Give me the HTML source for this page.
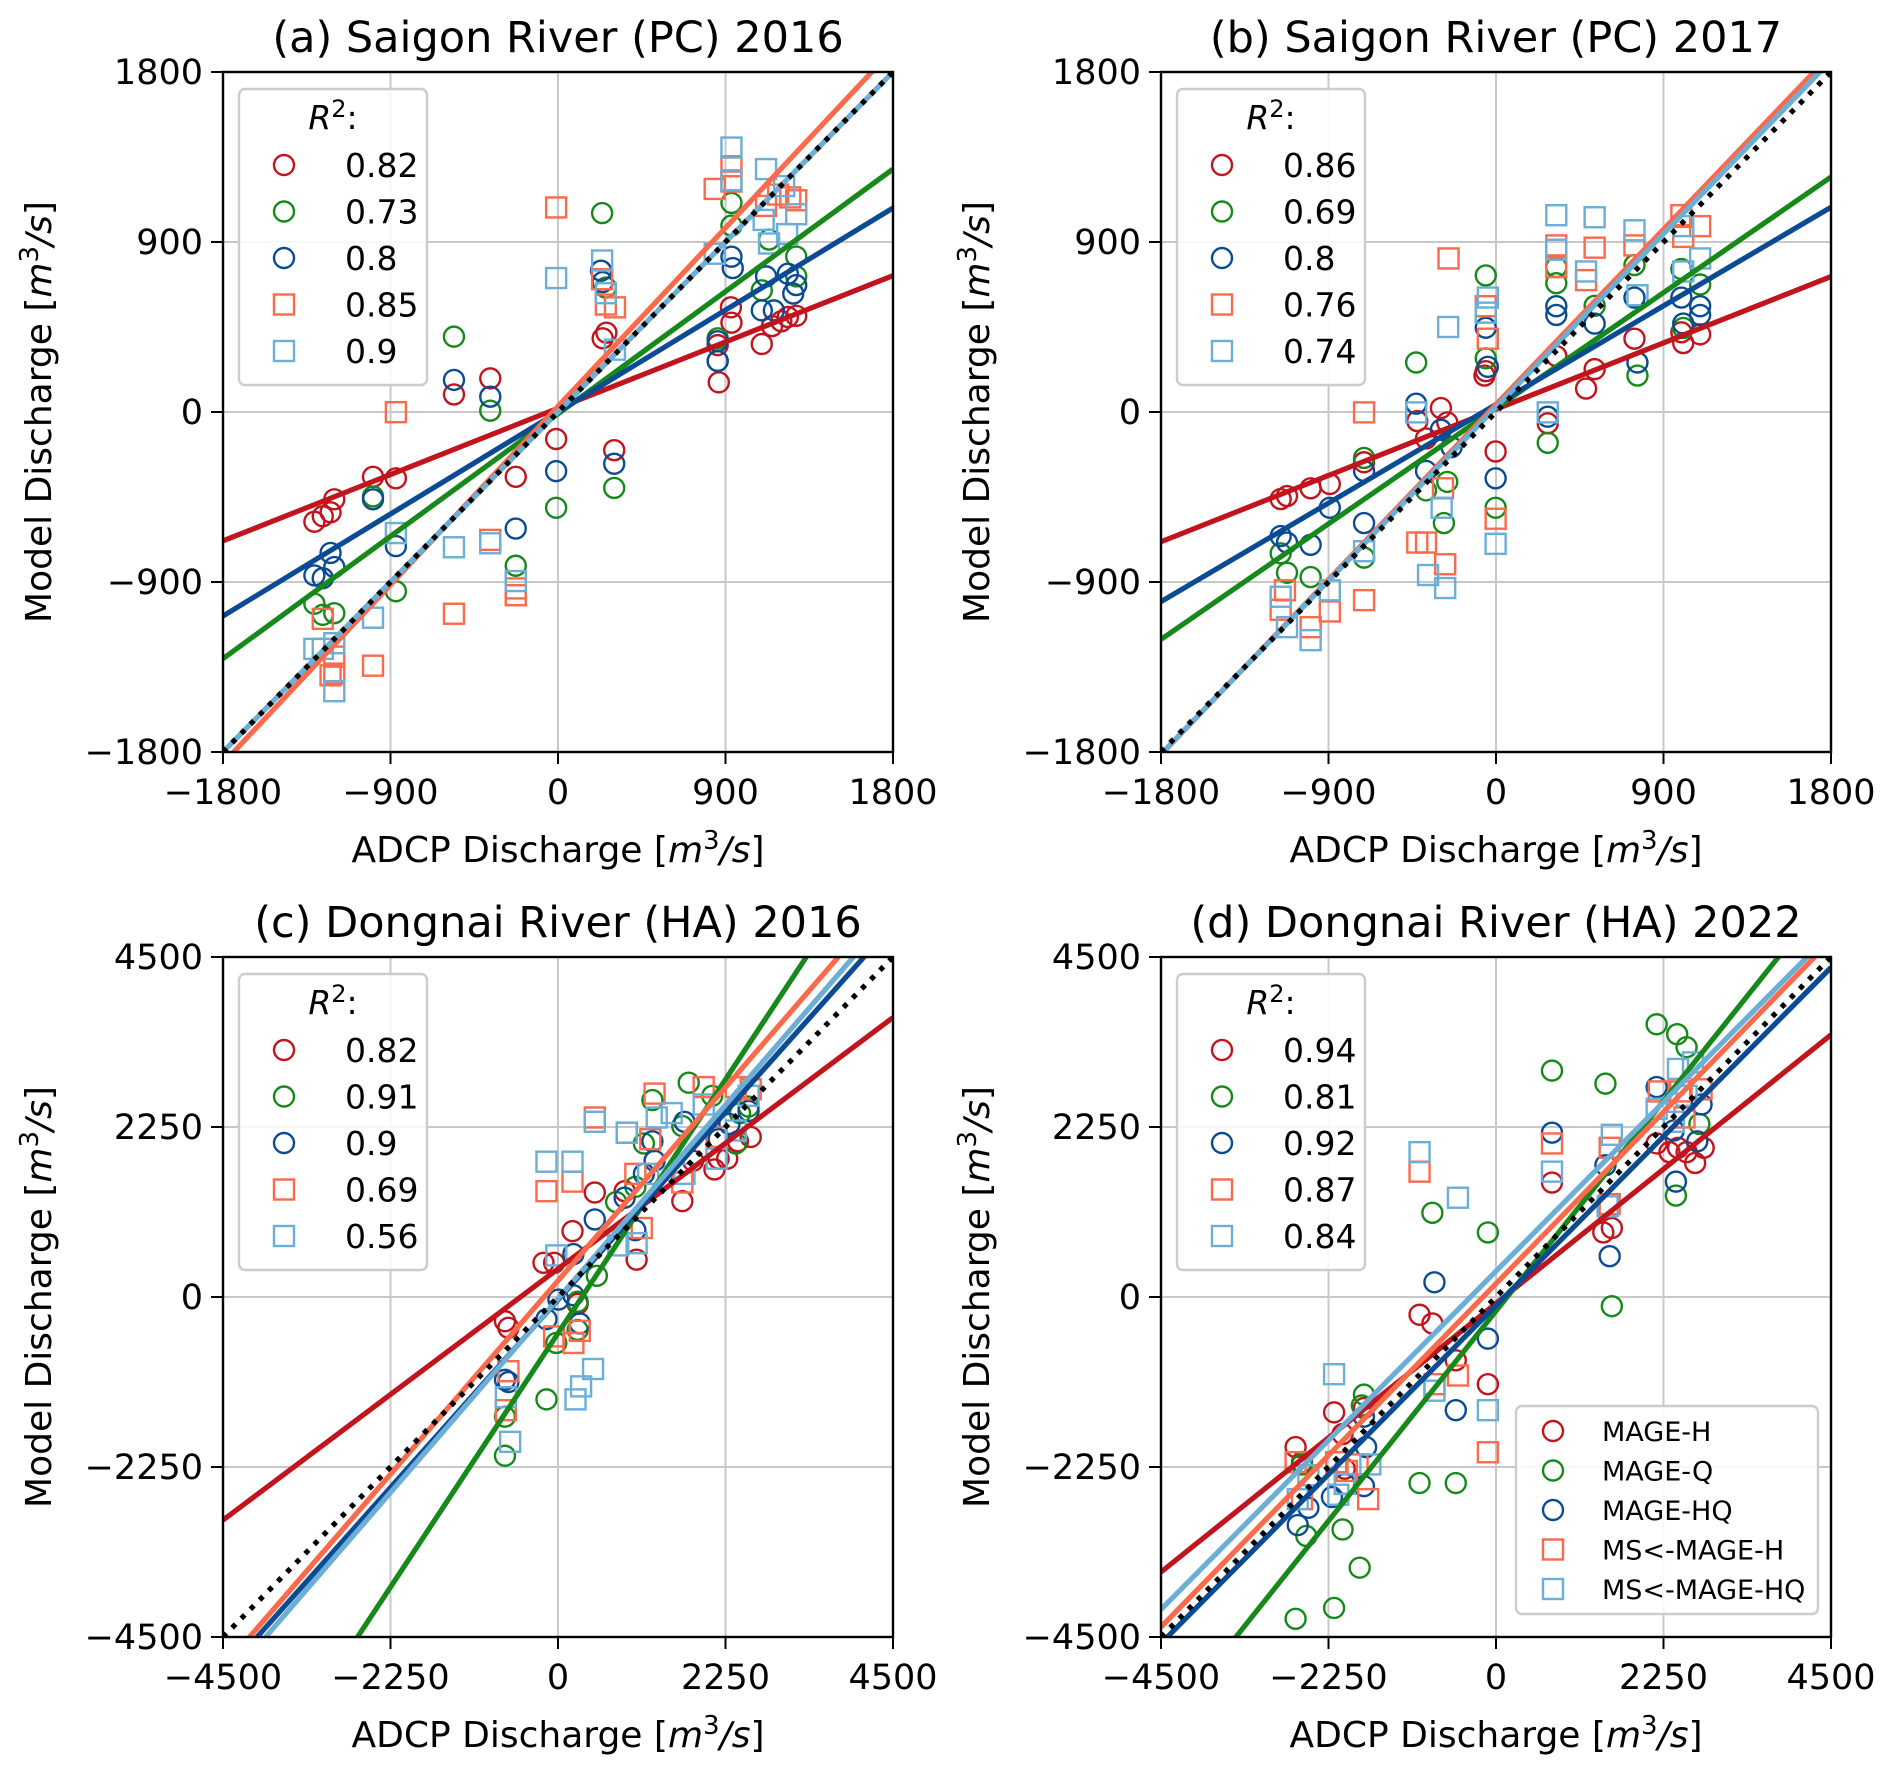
<!DOCTYPE html>
<html><head><meta charset="utf-8"><style>
html,body{margin:0;padding:0;background:#fff;}
svg{display:block;font-family:"DejaVu Sans","Liberation Sans",sans-serif;}
</style></head><body>
<svg id="fig" width="1892" height="1772" viewBox="0 0 1892 1772" xmlns="http://www.w3.org/2000/svg"></svg>
<script>
// ---------- Panel (a) data ----------
const a_red=[[-1309,-581],[-1264,-552],[-1222,-531],[-1202,-462],[-994,-343],[-871,-351],[-559,93],[-364,178],[-227,-343],[-10,-143],[302,-202],[240,390],[260,420],[864,157],[858,354],[932,473],[929,554],[1095,360],[1150,455],[1235,503],[1280,509],[1200,480]];
const a_green=[[-1309,-1015],[-1264,-1074],[-1202,-1065],[-994,-447],[-871,-949],[-559,399],[-364,7],[-227,-814],[-10,-507],[237,1053],[302,-402],[257,659],[858,390],[858,270],[932,1107],[932,987],[1095,644],[1134,913],[1280,823],[1280,718]];
const a_blue=[[-1309,-865],[-1264,-880],[-1222,-746],[-1202,-821],[-994,-462],[-871,-710],[-559,170],[-364,81],[-227,-617],[-10,-313],[302,-274],[231,748],[240,688],[858,375],[858,270],[932,822],[939,762],[1095,538],[1118,718],[1160,538],[1235,732],[1264,627],[1280,672]];
const a_orange=[[-1264,-1095],[-1202,-1295],[-1202,-1385],[-1222,-1394],[-994,-1343],[-871,-1],[-559,-1068],[-364,-677],[-227,-934],[-227,-970],[-10,1083],[237,703],[257,569],[306,554],[842,1181],[932,1301],[932,1220],[1183,1151],[1248,1136],[1280,1121],[1118,1091]];
const a_lblue=[[-1309,-1254],[-1264,-1254],[-1202,-1224],[-1202,-1478],[-994,-1089],[-871,-641],[-559,-716],[-364,-695],[-227,-895],[-10,709],[237,802],[257,629],[306,330],[842,838],[932,1400],[932,1227],[1118,1286],[1134,892],[1215,1196],[1231,942],[1280,1047],[1105,1017]];
const a_slopes=[0.39,0.72,0.6,1.05,1.0];
const a_intercepts=[20,-10,0,30,0];
const a_r2=["0.82","0.73","0.8","0.85","0.9"];
// ---------- Panel (b) data ----------
const b_red=[[-1157,-461],[-1123,-445],[-996,-404],[-893,-381],[-423,-48],[-296,21],[-262,-55],[-376,-140],[-709,-266],[-55,216],[-62,193],[-2,-209],[278,-60],[324,296],[484,124],[530,227],[744,388],[996,422],[1006,365],[1097,411]];
const b_green=[[-1157,-748],[-1123,-851],[-996,-874],[-709,-243],[-709,-771],[-429,262],[-376,-415],[-262,-370],[-280,-588],[-55,723],[-55,284],[-2,-507],[278,-163],[324,682],[324,767],[530,562],[744,778],[760,193],[996,757],[1006,445],[1097,675]];
const b_blue=[[-1157,-657],[-1123,-691],[-996,-703],[-893,-507],[-709,-312],[-709,-588],[-429,44],[-296,-94],[-376,-312],[-239,-186],[-55,446],[-44,239],[-2,-351],[278,-25],[324,560],[324,514],[530,468],[744,606],[760,262],[996,606],[1006,468],[1097,560],[1097,514]];
const b_orange=[[-1134,-944],[-1157,-1047],[-996,-1139],[-893,-1056],[-709,-2],[-709,-996],[-423,-691],[-376,-691],[-273,-806],[-285,-404],[-55,560],[-44,388],[-2,-565],[-255,813],[324,882],[324,767],[484,698],[530,870],[744,882],[996,1042],[1006,927],[1097,984]];
const b_lblue=[[-1157,-978],[-1123,-1139],[-996,-1208],[-893,-944],[-709,-737],[-429,-2],[-365,-863],[-273,-932],[-292,-507],[-257,450],[-55,526],[-44,606],[-2,-698],[278,-2],[324,1042],[324,859],[484,744],[530,1031],[744,962],[760,618],[1006,984],[1097,813],[1006,744]];
const b_slopes=[0.39,0.68,0.58,1.03,1.02];
const b_intercepts=[15,20,40,40,25];
const b_r2=["0.86","0.69","0.8","0.76","0.74"];
// ---------- Panel (c) data ----------
const c_red=[[-712,-321],[-666,-408],[-195,453],[-52,453],[195,872],[494,1383],[895,1401],[1056,494],[1670,1269],[2101,1688],[2158,1831],[2273,1831],[2417,2061],[2589,2118],[1814,1802],[264,-92]];
const c_green=[[-712,-2101],[-712,-1584],[-155,-1355],[-23,-608],[264,-436],[264,-63],[522,281],[781,1257],[1039,1458],[1154,2032],[1268,2606],[1670,2262],[1756,2836],[2072,2663],[2445,2434],[2560,2520],[2388,2032]];
const c_blue=[[-712,-1096],[-666,-1125],[-155,-293],[6,-34],[207,568],[207,23],[293,-350],[494,1027],[895,1314],[1039,884],[1154,1630],[1268,2061],[1297,1802],[1699,2319],[2158,2089],[2302,2290],[2560,2462]];
const c_orange=[[-666,-982],[-700,-1498],[-52,-522],[207,-608],[293,-448],[-155,1401],[195,1527],[494,2376],[924,2175],[1240,2089],[1125,913],[1039,1630],[1297,2692],[1670,1515],[1957,2778],[2130,2118],[2589,2749],[2388,2778]];
const c_lblue=[[-643,-1917],[-700,-1326],[235,-1355],[310,-1183],[471,-953],[-155,1791],[195,1791],[-23,551],[494,2319],[924,2175],[1056,712],[809,683],[1211,1630],[1527,2434],[1957,2548],[2130,1831],[2388,2204],[2560,2663],[1326,2376],[1699,1630]];
const c_slopes=[0.739,1.493,1.104,1.138,1.14];
const c_intercepts=[373,-480,-38,215,-23];
const c_r2=["0.82","0.91","0.9","0.69","0.56"];
// ---------- Panel (d) data ----------
const d_red=[[-2692,-1986],[-2175,-1527],[-2061,-1814],[-1774,-1469],[-1027,-235],[-855,-350],[-540,-838],[-109,-1154],[752,1515],[1441,855],[1556,913],[2158,2032],[2330,1917],[2445,1975],[2560,1917],[2675,1774],[2790,1975],[-2606,-2187],[-2032,-2273]];
const d_green=[[-2692,-4259],[-2175,-4116],[-1831,-3582],[-2061,-3077],[-2548,-3163],[-1774,-1292],[-1027,-2462],[-540,-2462],[-855,1114],[-109,855],[752,2996],[1470,2824],[1556,-121],[2158,3610],[2434,3478],[2560,3306],[2732,2290],[2417,1343],[-1802,-1435],[-2606,-2216]];
const d_blue=[[-2663,-3019],[-2520,-2790],[-2204,-2647],[-2032,-2475],[-1774,-2503],[-1745,-1986],[-1774,-1584],[-827,195],[-540,-1498],[-109,-551],[752,2175],[1470,1745],[1527,540],[2158,2778],[2417,1527],[2761,2548],[2704,2061],[2388,2204]];
const d_orange=[[-2692,-2187],[-2606,-2675],[-2147,-2187],[-2004,-2302],[-1717,-2675],[-826,-1154],[-511,-1039],[-109,-2055],[-1027,1659],[752,2032],[1527,1975],[1527,1229],[2187,2721],[2474,2721],[2761,2749],[2532,2376],[-1860,-2216]];
const d_lblue=[[-2175,-1022],[-2663,-2675],[-2520,-2359],[-2118,-2617],[-2032,-2475],[-1688,-2216],[-1027,1917],[-511,1314],[-827,-1240],[-109,-1498],[752,1659],[1556,2147],[1499,1200],[2445,3019],[2646,3105],[2158,2491],[2388,2319],[2560,2663]];
const d_slopes=[0.79,1.235,0.994,1.01,0.995];
const d_intercepts=[-85,-185,-112,177,342];
const d_r2=["0.94","0.81","0.92","0.87","0.84"];

const seriesNames=["MAGE-H","MAGE-Q","MAGE-HQ","MS<-MAGE-H","MS<-MAGE-HQ"];
const colors=["#c1141d","#16891a","#0b4b93","#fb6a4a","#6baed6"];
const markers=["o","o","o","s","s"];

const NS="http://www.w3.org/2000/svg";
const fig=document.getElementById('fig');
function mk(tag,attrs,parent){const e=document.createElementNS(NS,tag);for(const k in attrs)e.setAttribute(k,attrs[k]);(parent||fig).appendChild(e);return e;}

function marker(g,type,cx,cy,color){
  let m;
  if(type==="o"){m=mk('circle',{cx:cx,cy:cy,r:10,fill:'none',stroke:color,'stroke-width':2.4},g);}
  else{m=mk('rect',{x:cx-10,y:cy-10,width:20,height:20,fill:'none',stroke:color,'stroke-width':2.4},g);}
  return m;
}

function panel(id,px,py,lim,ticks,title,sets,slopes,intercepts,r2,bigLegend){
  const W=670,H=680;
  const sx=v=>px+(v+lim)/(2*lim)*W;
  const sy=v=>py+H-(v+lim)/(2*lim)*H;
  const g=mk('g',{});
  
  
  const cp=mk('clipPath',{id:'clip'+id},g);
  mk('rect',{x:px,y:py,width:W,height:H},cp);
  ticks.forEach(t=>{
    const gv=mk('line',{x1:sx(t),x2:sx(t),y1:py,y2:py+H,stroke:'#c8c8c8','stroke-width':2},g);
    
    const gh=mk('line',{x1:px,x2:px+W,y1:sy(t),y2:sy(t),stroke:'#c8c8c8','stroke-width':2},g);
    
  });
  const cg=mk('g',{'clip-path':'url(#clip'+id+')'},g);
  sets.forEach((pts,si)=>{
    pts.forEach(p=>{
      const m=marker(cg,markers[si],sx(p[0]),sy(p[1]),colors[si]);
      
      
    });
  });
  slopes.forEach((s,i)=>{
    const l=mk('line',{x1:sx(-lim),y1:sy(s*-lim+intercepts[i]),x2:sx(lim),y2:sy(s*lim+intercepts[i]),stroke:colors[i],'stroke-width':5.2},cg);
    
    
  });
  const one=mk('line',{x1:sx(-lim),y1:sy(-lim),x2:sx(lim),y2:sy(lim),stroke:'#000','stroke-width':5.2,'stroke-dasharray':'5 8'},cg);
  
  
  const fr=mk('rect',{x:px,y:py,width:W,height:H,fill:'none',stroke:'#000','stroke-width':2.4},g);
  
  ticks.forEach(t=>{
    mk('line',{x1:sx(t),x2:sx(t),y1:py+H,y2:py+H+12,stroke:'#000','stroke-width':2},g);
    mk('line',{x1:px-12,x2:px,y1:sy(t),y2:sy(t),stroke:'#000','stroke-width':2},g);
    const lab=String(t).replace('-','\u2212');
    const tx=mk('text',{x:sx(t),y:py+H+52,'font-size':35,'text-anchor':'middle',fill:'#000'},g);
    tx.textContent=lab;
    const ty=mk('text',{x:px-20,y:sy(t)+12,'font-size':35,'text-anchor':'end',fill:'#000'},g);
    ty.textContent=lab;
  });
  const tt=mk('text',{x:px+W/2,y:py-20,'font-size':43,'text-anchor':'middle',fill:'#000'},g);
  tt.textContent=title;
  const xl=mk('text',{x:px+W/2,y:py+H+110,'font-size':36,'text-anchor':'middle',fill:'#000'},g);
  xl.innerHTML='ADCP Discharge [<tspan font-style="italic">m</tspan><tspan dy="-13" font-size="26">3</tspan><tspan dy="13" font-style="italic">/s</tspan>]';
  
  const yl=mk('text',{x:0,y:0,'font-size':36,'text-anchor':'middle',fill:'#000',transform:'translate('+(px-172)+','+(py+H/2)+') rotate(-90)'},g);
  yl.innerHTML='Model Discharge [<tspan font-style="italic">m</tspan><tspan dy="-13" font-size="26">3</tspan><tspan dy="13" font-style="italic">/s</tspan>]';
  
  const lg=mk('g',{},g);
  
  mk('rect',{x:px+16,y:py+17,width:188,height:296,rx:6,fill:'#fff','fill-opacity':0.85,stroke:'#cccccc','stroke-width':2.4},lg);
  const rh=mk('text',{x:px+110,y:py+57,'font-size':33,'text-anchor':'middle',fill:'#000'},lg);
  rh.innerHTML='<tspan font-style="italic">R</tspan><tspan dy="-12" font-size="24">2</tspan><tspan dy="12">:</tspan>';
  r2.forEach((v,i)=>{
    const yy=py+93+i*46.5;
    const m=marker(lg,markers[i],px+61,yy,colors[i]);
    
    const t=mk('text',{x:px+122,y:yy+12,'font-size':33,fill:'#000'},lg);
    t.textContent=v;
  });
  if(bigLegend){
    const bl=mk('g',{},g);
    
    mk('rect',{x:px+355,y:py+449,width:302,height:208,rx:6,fill:'#fff','fill-opacity':0.85,stroke:'#cccccc','stroke-width':2.4},bl);
    seriesNames.forEach((n,i)=>{
      const yy=py+474+i*39.5;
      const m=marker(bl,markers[i],px+392,yy,colors[i]);
      
      const t=mk('text',{x:px+441,y:yy+10,'font-size':27,fill:'#000'},bl);
      t.textContent=n;
    });
  }
}

panel('a',223,72,1800,[-1800,-900,0,900,1800],'(a) Saigon River (PC) 2016',[a_red,a_green,a_blue,a_orange,a_lblue],a_slopes,a_intercepts,a_r2,false);
panel('b',1161,72,1800,[-1800,-900,0,900,1800],'(b) Saigon River (PC) 2017',[b_red,b_green,b_blue,b_orange,b_lblue],b_slopes,b_intercepts,b_r2,false);
panel('c',223,957,4500,[-4500,-2250,0,2250,4500],'(c) Dongnai River (HA) 2016',[c_red,c_green,c_blue,c_orange,c_lblue],c_slopes,c_intercepts,c_r2,false);
panel('d',1161,957,4500,[-4500,-2250,0,2250,4500],'(d) Dongnai River (HA) 2022',[d_red,d_green,d_blue,d_orange,d_lblue],d_slopes,d_intercepts,d_r2,true);
</script>
</body></html>
